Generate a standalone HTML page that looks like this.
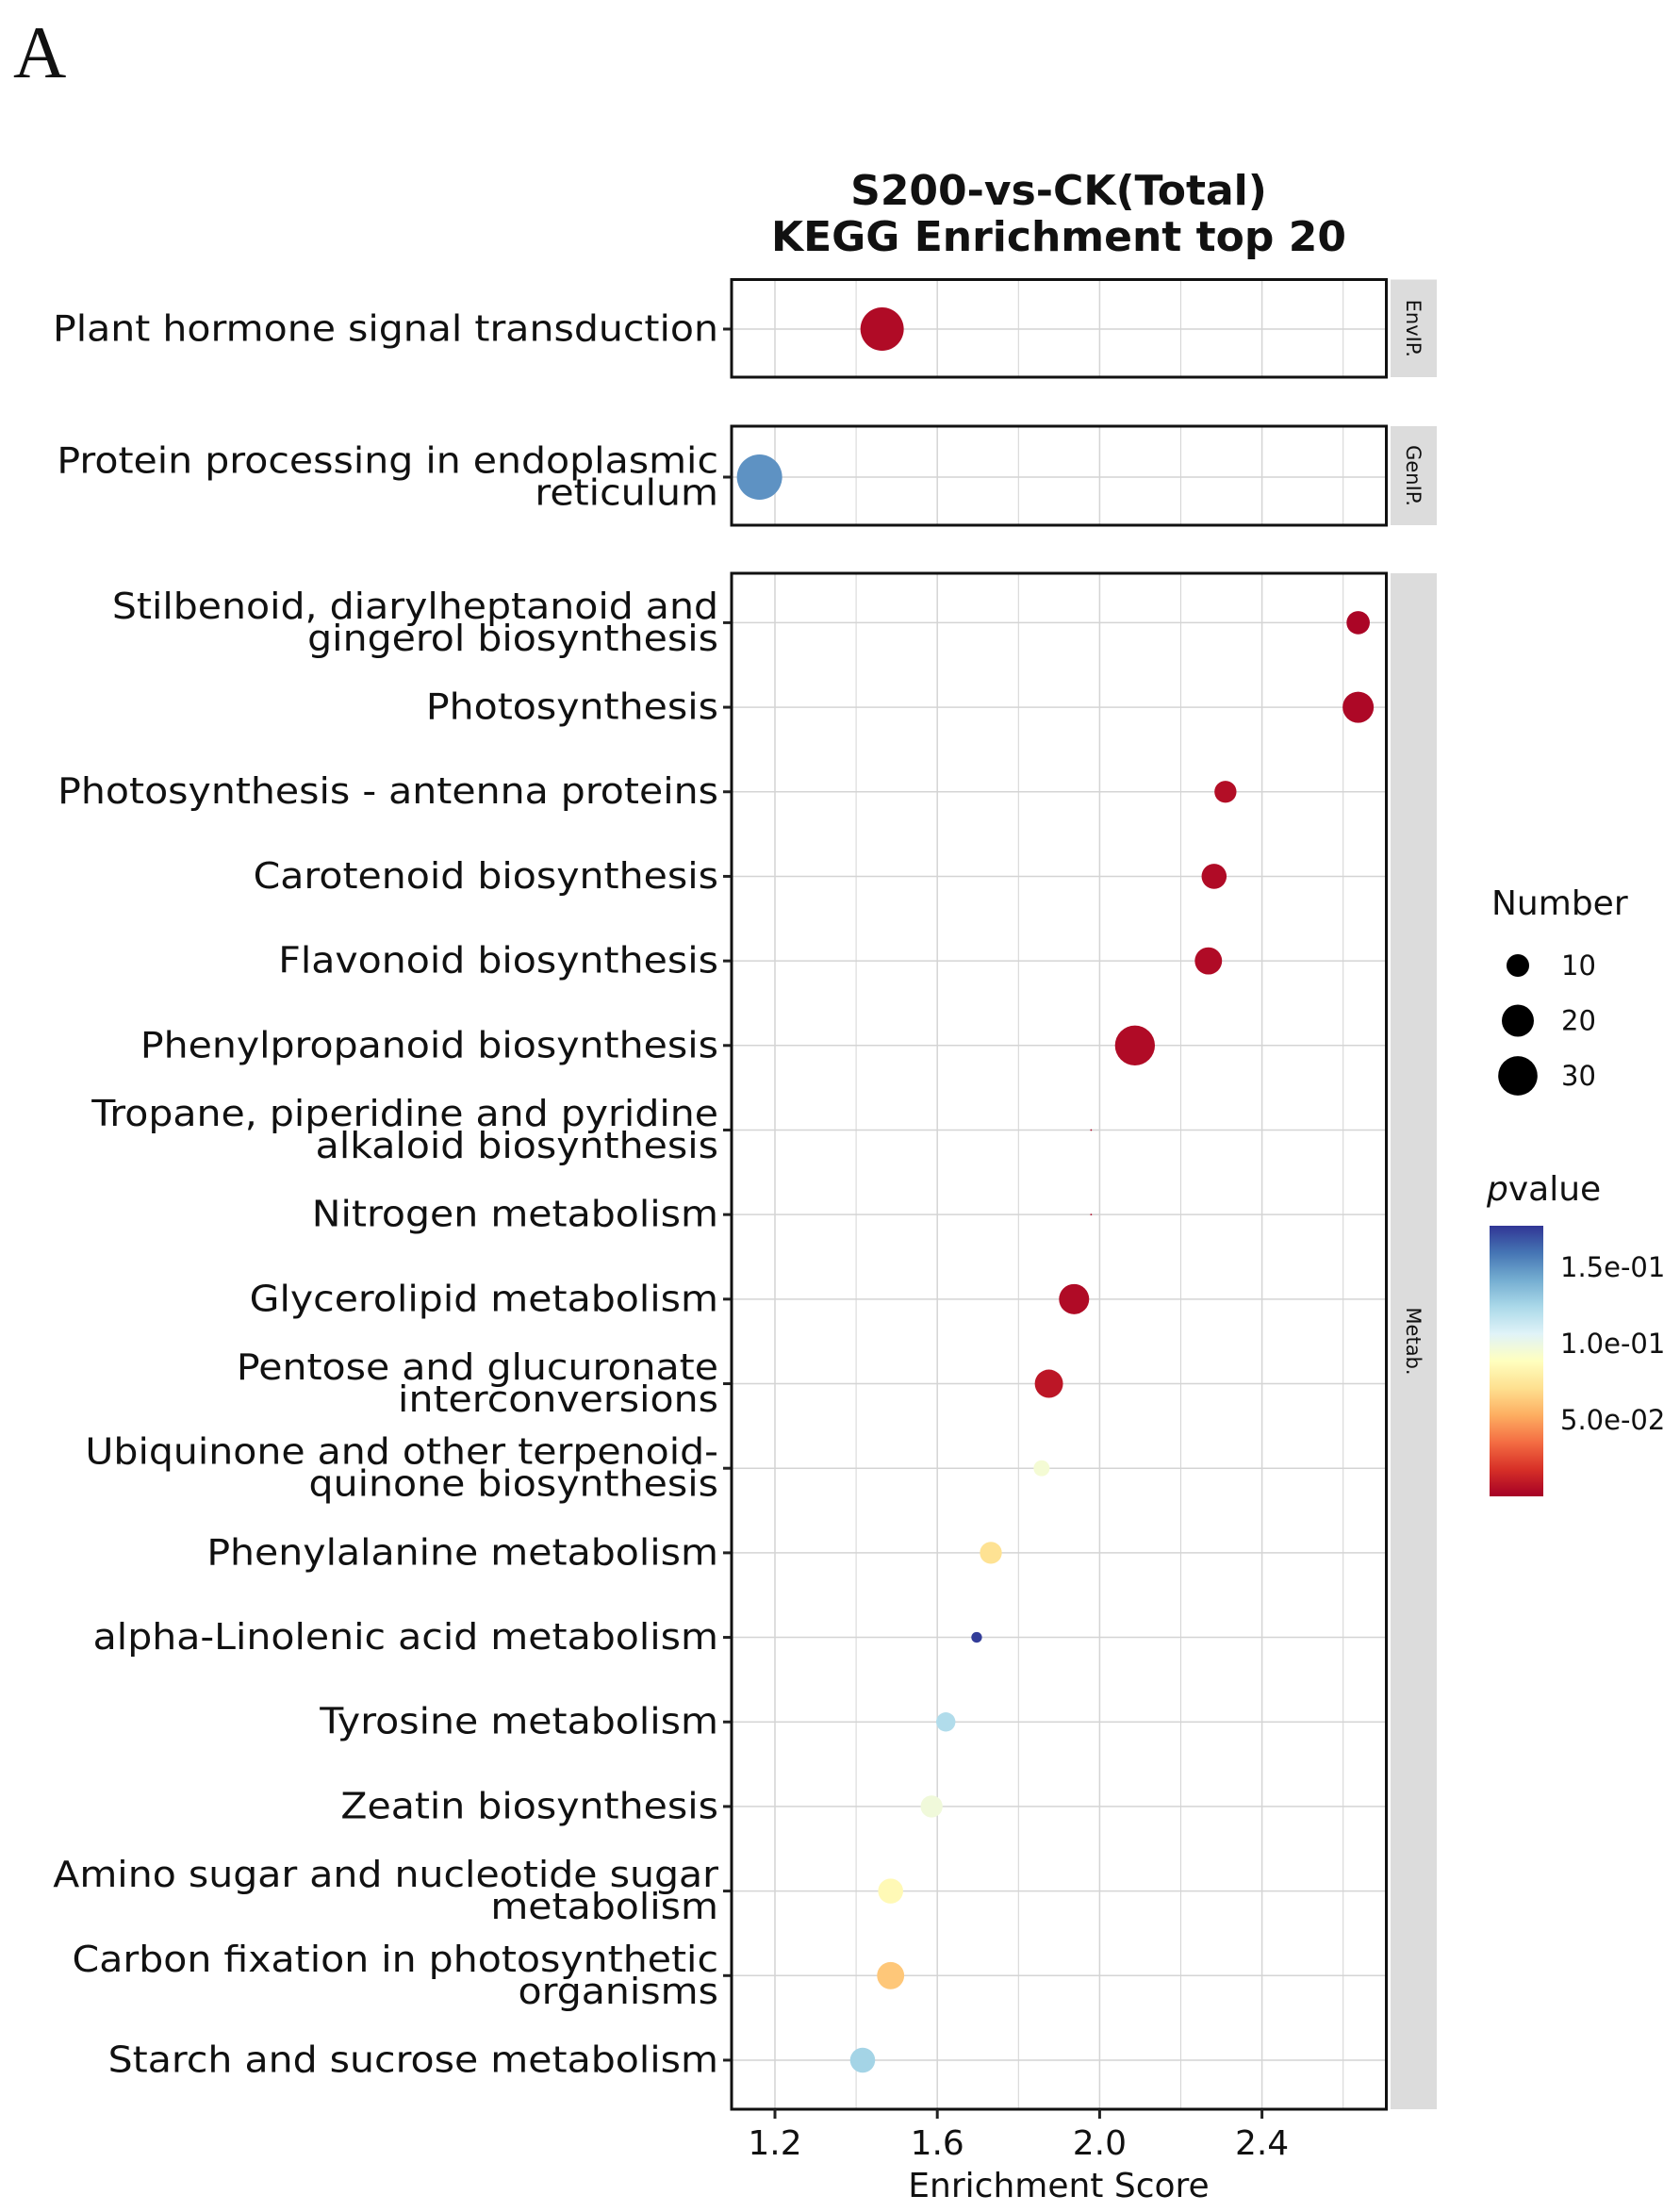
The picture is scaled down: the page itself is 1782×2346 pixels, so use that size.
<!DOCTYPE html>
<html><head><meta charset="utf-8"><style>
html,body{margin:0;padding:0;background:#fff}
svg{display:block}
text{font-family:"DejaVu Sans","Liberation Sans",sans-serif;fill:#111}
</style></head><body>
<svg id="chart" width="1782" height="2346" viewBox="0 0 1782 2346" xmlns="http://www.w3.org/2000/svg">
<text x="14" y="82" style="font-family:'Liberation Serif',serif;font-size:78px">A</text>
<text x="1123" y="217" text-anchor="middle" style="font-weight:bold;font-size:44px">S200-vs-CK(Total)</text>
<text x="1123" y="266" text-anchor="middle" style="font-weight:bold;font-size:44px">KEGG Enrichment top 20</text>
<g id="plot"></g>
<g id="legend"></g>
</svg>
<script>
const terms1=["Plant hormone signal transduction"];
const terms2=["Protein processing in endoplasmic|reticulum"];
const terms3=["Stilbenoid, diarylheptanoid and|gingerol biosynthesis","Photosynthesis","Photosynthesis - antenna proteins","Carotenoid biosynthesis","Flavonoid biosynthesis","Phenylpropanoid biosynthesis","Tropane, piperidine and pyridine|alkaloid biosynthesis","Nitrogen metabolism","Glycerolipid metabolism","Pentose and glucuronate|interconversions","Ubiquinone and other terpenoid-|quinone biosynthesis","Phenylalanine metabolism","alpha-Linolenic acid metabolism","Tyrosine metabolism","Zeatin biosynthesis","Amino sugar and nucleotide sugar|metabolism","Carbon fixation in photosynthetic|organisms","Starch and sucrose metabolism"];
const score1=[1.464];
const count1=[33];
const pval1=[0.004];
const score2=[1.162];
const count2=[36];
const pval2=[0.15];
const score3=[2.637,2.637,2.31,2.282,2.268,2.087,1.979,1.979,1.937,1.875,1.857,1.732,1.697,1.621,1.586,1.485,1.485,1.416];
const count3=[9.5,17,8.5,11,13,28,0.05,0.05,16,14,4.5,8.5,2,6.5,8.5,11,13,11];
const pval3=[0.002,0.003,0.005,0.004,0.004,0.004,0.003,0.003,0.004,0.008,0.095,0.072,0.175,0.122,0.097,0.085,0.062,0.126];
const xTicks=[1.2,1.6,2.0,2.4];
const xMinor=[1.4,1.8,2.2,2.6];
const sizeLegend=[10,20,30];
const pLegend=[0.15,0.10,0.05];
const pLegendLabels=["1.5e-01","1.0e-01","5.0e-02"];

const NS="http://www.w3.org/2000/svg";
const X0=776,X1=1470.5;
const xs=v=>822+(v-1.2)*430.5;
const rs=n=>4.0*Math.sqrt(n);
const stops=["#a50026","#d73027","#f46d43","#fdae61","#fee090","#ffffbf","#e0f3f8","#abd9e9","#74add1","#4575b4","#313695"];
const PMAX=0.177;
function hex(h){return [1,3,5].map(i=>parseInt(h.substr(i,2),16));}
function col(p){let t=Math.max(0,Math.min(1,p/PMAX))*(stops.length-1);let i=Math.min(Math.floor(t),stops.length-2),f=t-i;const a=hex(stops[i]),b=hex(stops[i+1]);return "rgb("+a.map((v,k)=>Math.round(v+(b[k]-v)*f)).join(",")+")";}
function mk(tag,attrs,parent){const e=document.createElementNS(NS,tag);for(const k in attrs)e.setAttribute(k,attrs[k]);parent.appendChild(e);return e;}
const plot=document.getElementById('plot');
const legend=document.getElementById('legend');

function panel(y0,y1,ys,terms,scores,counts,pvals,strip,name){
  const g=mk('g',{},plot);
  
  
  mk('rect',{x:X0,y:y0,width:X1-X0,height:y1-y0,fill:'#fff'},g);
  xTicks.concat(xMinor).forEach(v=>{const l=mk('line',{x1:xs(v),x2:xs(v),y1:y0,y2:y1,stroke:'#d4d4d4','stroke-width':xMinor.includes(v)?1:1.5},g);
    
    });
  terms.forEach((t,i)=>{const y=ys(i);
    const gl=mk('line',{x1:X0,x2:X1,y1:y,y2:y,stroke:'#d4d4d4','stroke-width':1.5},g);
    
    
    const tk=mk('line',{x1:X0-9,x2:X0,y1:y,y2:y,stroke:'#222','stroke-width':3},g);
    
    
    const parts=t.split('|');
    const lg=mk('g',{transform:`translate(${X0-14},0) scale(1.08,1)`},g);
    parts.forEach((p,j)=>{const off=parts.length===1?0:(j===0?-17:17);
      const tx=mk('text',{x:0,y:y+off,'text-anchor':'end','dominant-baseline':'central','font-size':38},lg);
      tx.textContent=p;
      
      });
    const c=mk('circle',{cx:xs(scores[i]),cy:y,r:Math.max(rs(counts[i]),0.6),fill:col(pvals[i])},g);
    
    
  });
  mk('rect',{x:X0,y:y0,width:X1-X0,height:y1-y0,fill:'none',stroke:'#111','stroke-width':3},g);
  const sr=mk('rect',{x:1475,y:y0,width:49,height:y1-y0,fill:'#dcdcdc'},g);
  
  
  const cy=(y0+y1)/2;
  const st=mk('text',{x:1499,y:cy,'text-anchor':'middle','dominant-baseline':'central','font-size':21,transform:`rotate(90 1499 ${cy})`},g);
  st.textContent=strip;
  
  
}
panel(296.5,400,i=>349,terms1,score1,count1,pval1,'EnvIP.','panel-envip');
panel(452,557,i=>506,terms2,score2,count2,pval2,'GenIP.','panel-genip');
panel(608,2237,i=>660.4+i*89.68,terms3,score3,count3,pval3,'Metab.','panel-metab');

xTicks.forEach(v=>{
  const l=mk('line',{x1:xs(v),x2:xs(v),y1:2237,y2:2247,stroke:'#222','stroke-width':3},plot);
  
  
  const t=mk('text',{x:xs(v),y:2285,'text-anchor':'middle','font-size':36},plot);
  t.textContent=v.toFixed(1);
  
  
});
const xt=mk('text',{x:1123,y:2330,'text-anchor':'middle','font-size':36},plot);
xt.textContent='Enrichment Score';



const nt=mk('text',{x:1582,y:970,'font-size':36},legend);
nt.textContent='Number';


sizeLegend.forEach((n,i)=>{const y=1024+i*58.5;
  const c=mk('circle',{cx:1610,cy:y,r:rs(n)*0.95,fill:'#000'},legend);
  
  
  const t=mk('text',{x:1656,y:y,'dominant-baseline':'central','font-size':29},legend);
  t.textContent=n;
  
  });

const pt=mk('text',{x:1577,y:1273,'font-size':36},legend);
pt.innerHTML='<tspan font-style="italic">p</tspan>value';


const defs=mk('defs',{},legend);
const lgr=mk('linearGradient',{id:'pg',x1:0,y1:1,x2:0,y2:0},defs);
stops.forEach((s,i)=>mk('stop',{offset:i/(stops.length-1),'stop-color':s},lgr));
const CB0=1300,CB1=1587;
const cb=mk('rect',{x:1580,y:CB0,width:57,height:CB1-CB0,fill:'url(#pg)'},legend);


pLegend.forEach((p,i)=>{const y=CB1-(p/PMAX)*(CB1-CB0);
  const t=mk('text',{x:1655,y:y,'dominant-baseline':'central','font-size':29},legend);
  t.textContent=pLegendLabels[i];
  
  });
</script>
</body></html>
